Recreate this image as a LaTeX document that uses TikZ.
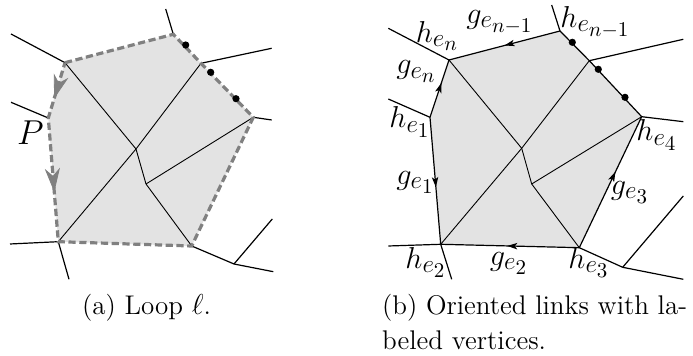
\documentclass[tikz,border=0pt]{standalone}
\usepackage{graphicx}
\usetikzlibrary{arrows.meta,decorations.markings}
\DeclareMathSizes{14.4}{14.4}{12}{10}
\definecolor{cellfill}{gray}{0.89}
\definecolor{loopgray}{gray}{0.5}
\newcommand{\lab}[1]{\scalebox{1.05}{$#1$}}
\tikzset{
  linkline/.style={black, line width=0.6pt},
  innerline/.style={black, line width=0.45pt},
  loopline/.style={loopgray, line width=1.6pt, dash pattern=on 3.6pt off 1.8pt},
  dotmark/.style={circle, fill=black, inner sep=0pt, minimum size=3.6pt},
  lbl/.style={inner sep=0pt, font=\fontsize{14.4}{17}\selectfont},
  captext/.style={inner sep=0pt, font=\fontsize{13.5}{16.5}\selectfont},
  midarrow/.style={postaction={decorate}, decoration={markings, mark=at position #1 with {\arrow{Stealth[length=5pt,width=3.2pt,inset=1.2pt]}}}},
  bigarrow/.style={decoration={markings, mark=at position #1 with {\arrow[loopgray]{Stealth[length=12pt,width=7.6pt,inset=3.8pt]}}}, decorate},
}
\begin{document}
\begin{tikzpicture}[x=0.5pt,y=-0.5pt]
\useasboundingbox (0,0) rectangle (693,356);
% ---------- left panel ----------
\coordinate (A) at (65,62.7);
\coordinate (B) at (173.3,34.3);
\coordinate (C) at (201,63.3);
\coordinate (D) at (253.3,117.3);
\coordinate (E) at (191.7,246);
\coordinate (F) at (58.3,241.7);
\coordinate (G) at (48.3,118);
\coordinate (I1) at (136,149);
\coordinate (I2) at (146,184);
\coordinate (a1) at (11,34);
\coordinate (b1) at (165.7,9);
\coordinate (c1) at (271.7,48.3);
\coordinate (d1) at (271.7,120);
\coordinate (g1) at (11,102.3);
\coordinate (f1) at (10,244);
\coordinate (f2) at (69,279.3);
\coordinate (e1) at (234,264);
\coordinate (e2) at (273.3,271.7);
\coordinate (e3) at (272.3,219);
\fill[cellfill] (A) -- (B) -- (C) -- (D) -- (E) -- (F) -- (G) -- cycle;
\draw[innerline] (A) -- (I1) -- (I2) -- (E);
\draw[innerline] (C) -- (I1) -- (F);
\draw[innerline] (I2) -- (D);
\draw[linkline] (A) -- (a1);
\draw[linkline] (B) -- (b1);
\draw[linkline] (C) -- (c1);
\draw[linkline] (D) -- (d1);
\draw[linkline] (G) -- (g1);
\draw[linkline] (F) -- (f1);
\draw[linkline] (F) -- (f2);
\draw[linkline] (E) -- (e1) -- (e2);
\draw[linkline] (e1) -- (e3);
\draw[loopline] (A) -- (B) -- (C) -- (D) -- (E) -- (F) -- (G) -- cycle;
\path[bigarrow=0.65] (A) -- (G);
\path[bigarrow=0.6] (G) -- (F);
\node[dotmark] (dl1) at (185.7,45) {};
\node[dotmark] (dl2) at (210.7,72.3) {};
\node[dotmark] (dl3) at (236,98.7) {};
\node[lbl] (P) at (30.5,132.5) {\scalebox{1.2}{$P$}};
% ---------- right panel ----------
\coordinate (A') at (449,60);
\coordinate (B') at (560,31);
\coordinate (C') at (589.3,60.7);
\coordinate (D') at (641.7,116.7);
\coordinate (E') at (579.3,247.7);
\coordinate (F') at (440.7,244.3);
\coordinate (G') at (430,117.3);
\coordinate (J1) at (521.7,148.3);
\coordinate (J2) at (531.7,184);
\coordinate (ra1) at (388.3,28.3);
\coordinate (rb1) at (551.7,5);
\coordinate (rc1) at (683.3,39.3);
\coordinate (rd1) at (683.3,121.7);
\coordinate (rg1) at (388.3,99);
\coordinate (rf1) at (388.3,246);
\coordinate (rf2) at (451.7,279.3);
\coordinate (re1) at (622.7,267.3);
\coordinate (re2) at (683.3,279.3);
\coordinate (re3) at (683.3,196);
\fill[cellfill] (A') -- (B') -- (C') -- (D') -- (E') -- (F') -- (G') -- cycle;
\draw[innerline] (A') -- (J1) -- (J2) -- (E');
\draw[innerline] (C') -- (J1) -- (F');
\draw[innerline] (J2) -- (D');
\draw[linkline] (A') -- (ra1);
\draw[linkline] (B') -- (rb1);
\draw[linkline] (C') -- (rc1);
\draw[linkline] (D') -- (rd1);
\draw[linkline] (G') -- (rg1);
\draw[linkline] (F') -- (rf1);
\draw[linkline] (F') -- (rf2);
\draw[linkline] (E') -- (re1) -- (re2);
\draw[linkline] (re1) -- (re3);
\draw[linkline] (B') -- (C') -- (D');
\draw[linkline, midarrow=0.5] (B') -- (A');
\draw[linkline, midarrow=0.6] (G') -- (A');
\draw[linkline, midarrow=0.55] (G') -- (F');
\draw[linkline, midarrow=0.52] (E') -- (F');
\draw[linkline, midarrow=0.58] (E') -- (D');
\node[dotmark] (dr1) at (572.3,42.3) {};
\node[dotmark] (dr2) at (598.3,69.3) {};
\node[dotmark] (dr3) at (625,97.3) {};
\node[lbl] (hen) at (437.5,36) {\lab{h_{e_n}}};
\node[lbl] (gen1) at (500,22.5) {\lab{g_{e_{n-1}}}};
\node[lbl] (hen1) at (595.5,22.5) {\lab{h_{e_{n-1}}}};
\node[lbl] (gen) at (416.5,71.5) {\lab{g_{e_n}}};
\node[lbl] (he1) at (410,122) {\lab{h_{e_1}}};
\node[lbl] (he4) at (657,135) {\lab{h_{e_4}}};
\node[lbl] (ge1) at (415.5,182.5) {\lab{g_{e_1}}};
\node[lbl] (ge3) at (630,192.5) {\lab{g_{e_3}}};
\node[lbl] (he2) at (426,262.5) {\lab{h_{e_2}}};
\node[lbl] (ge2) at (509,263.5) {\lab{g_{e_2}}};
\node[lbl] (he3) at (589,262.5) {\lab{h_{e_3}}};
% ---------- captions ----------
\node[captext, anchor=base] (capa) at (146.5,315) {(a) Loop $\ell$.};
\node[captext, anchor=base west] (capb1) at (381.7,315) {\makebox[152.5pt][s]{(b) Oriented links with la-}};
\node[captext, anchor=base west] (capb2) at (381.7,350) {beled vertices.};
\end{tikzpicture}
\end{document}
